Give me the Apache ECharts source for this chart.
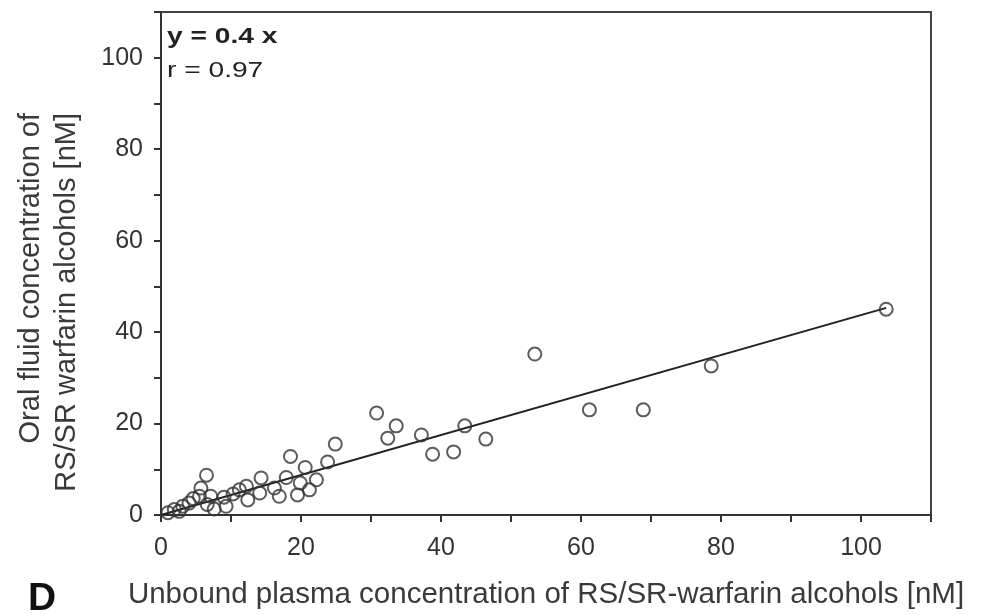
<!DOCTYPE html>
<html>
<head>
<meta charset="utf-8">
<script src="https://cdn.jsdelivr.net/npm/echarts@6/dist/echarts.min.js"></script>
<style>
html,body{margin:0;padding:0;background:#fff;}
#c{width:990px;height:615px;}
</style>
</head>
<body>
<div id="c"></div>
<script>
// Unbound plasma concentration (x, nM)
const plasmaX = [103.6, 78.6, 53.4, 61.2, 68.9, 30.8, 33.6, 32.4, 37.2, 38.8, 41.8, 43.4, 46.4,
  24.9, 18.5, 23.8, 20.6, 14.3, 17.9, 22.2, 19.9, 12.2, 16.2, 14.1, 21.2, 16.9, 19.5, 12.4, 11.2,
  6.5, 5.7, 7.1, 5.5, 9.0, 9.3, 3.1, 4.0, 1.9, 6.6, 1.0, 2.6, 7.6, 10.3, 4.6];
// Oral fluid concentration (y, nM)
const oralY = [45.0, 32.6, 35.2, 23.0, 23.0, 22.3, 19.5, 16.8, 17.5, 13.3, 13.8, 19.5, 16.6,
  15.5, 12.8, 11.6, 10.4, 8.1, 8.2, 7.7, 7.0, 6.3, 5.9, 4.8, 5.5, 4.1, 4.4, 3.3, 5.5,
  8.7, 5.9, 4.1, 4.1, 3.9, 1.9, 1.9, 2.6, 1.2, 2.3, 0.5, 0.8, 1.3, 4.6, 3.6];
// Regression line y = 0.4 x
const fitX = [0, 103.6];
const fitY = [0, 45.3];
const xTicks = [0, 20, 40, 60, 80, 100];
const yTicks = [0, 20, 40, 60, 80, 100];
const eqText = 'y = 0.4 x';
const rText = 'r = 0.97';
const xName = 'Unbound plasma concentration of RS/SR-warfarin alcohols [nM]';
const yName = 'Oral fluid concentration of\nRS/SR warfarin alcohols [nM]';
const panel = 'D';

const chart = echarts.init(document.getElementById('c'), null, {renderer: 'canvas'});
const font = 'Liberation Sans, Arial, sans-serif';
const axisCol = '#333';
chart.setOption({
  animation: false,
  backgroundColor: '#fff',
  grid: {left: 161, right: 59, top: 12, bottom: 98, show: true, borderColor: '#444', borderWidth: 2},
  xAxis: {
    type: 'value', min: 0, max: 110, interval: 10,
    name: xName, nameLocation: 'middle', nameGap: 65,
    nameTextStyle: {fontFamily: font, fontSize: 29.5, color: '#3a3a3a'},
    axisLine: {lineStyle: {color: axisCol, width: 2}},
    axisTick: {length: 7, lineStyle: {color: axisCol, width: 2}},
    axisLabel: {fontFamily: font, fontSize: 25, color: '#333', margin: 21,
      formatter: v => xTicks.includes(v) ? String(v) : ''},
    splitLine: {show: false}
  },
  yAxis: {
    type: 'value', min: 0, max: 110, interval: 10,
    axisLine: {lineStyle: {color: axisCol, width: 2}},
    axisTick: {length: 7, lineStyle: {color: axisCol, width: 2}},
    axisLabel: {fontFamily: font, fontSize: 25, color: '#333', margin: 18,
      formatter: v => yTicks.includes(v) ? String(v) : ''},
    splitLine: {show: false}
  },
  graphic: [
    {type: 'text', x: 167, y: 37, scaleX: 1.28, style: {text: eqText, font: 'bold 22px ' + font, fill: '#222', verticalAlign: 'middle'}},
    {type: 'text', x: 167, y: 71, scaleX: 1.28, style: {text: rText, font: '22px ' + font, fill: '#222', verticalAlign: 'middle'}},
    {type: 'text', x: 49, y: 113, rotation: Math.PI / 2,
      style: {text: yName, font: '29px ' + font, fill: '#3a3a3a', align: 'right', verticalAlign: 'middle', lineHeight: 36}},
    {type: 'text', x: 28, y: 599, style: {text: panel, font: 'bold 39px ' + font, fill: '#111', verticalAlign: 'middle'}}
  ],
  series: [
    {
      type: 'line', data: fitX.map((x, i) => [x, fitY[i]]), showSymbol: false, symbol: 'none',
      lineStyle: {color: '#222', width: 2}, z: 2
    },
    {
      type: 'scatter', data: plasmaX.map((x, i) => [x, oralY[i]]),
      symbol: 'circle', symbolSize: 13,
      itemStyle: {color: 'rgba(255,255,255,0)', borderColor: '#333', borderWidth: 2},
      z: 3
    }
  ]
});
</script>
</body>
</html>
